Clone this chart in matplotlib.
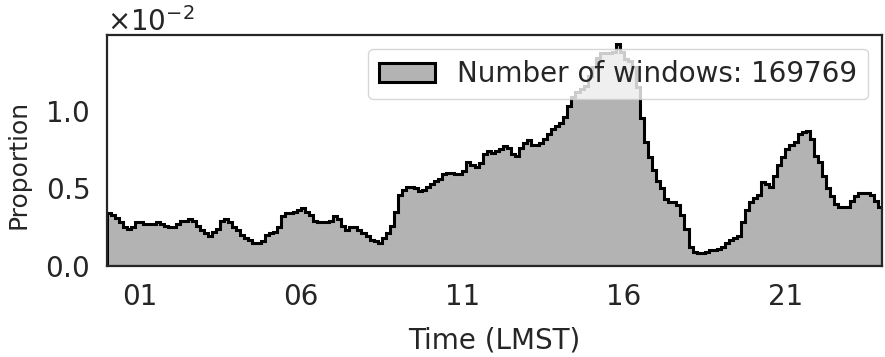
"""Diurnal distribution of analysis windows (proportion per 7.5-min bin)."""
import numpy as np
import matplotlib
matplotlib.use("Agg")
import matplotlib.pyplot as plt
import seaborn as sns
from matplotlib.ticker import ScalarFormatter, FixedLocator, MultipleLocator

sns.set_theme(style="white")

# ---------- data: proportion per bin (x 1e-2), 8 bins per hour ----------
n_windows = 169769
hours_00_05 = [
    0.34, 0.33, 0.31, 0.28, 0.25, 0.24, 0.25, 0.28,
    0.28, 0.27, 0.27, 0.27, 0.28, 0.27, 0.26, 0.25,
    0.25, 0.27, 0.29, 0.29, 0.30, 0.29, 0.26, 0.23,
    0.21, 0.19, 0.22, 0.24, 0.29, 0.30, 0.28, 0.25,
    0.23, 0.20, 0.18, 0.17, 0.15, 0.15, 0.16, 0.20,
    0.21, 0.22, 0.25, 0.32, 0.34, 0.34, 0.35, 0.36,
]
hours_06_11 = [
    0.37, 0.35, 0.33, 0.29, 0.28, 0.28, 0.28, 0.29,
    0.32, 0.30, 0.26, 0.23, 0.25, 0.25, 0.23, 0.21,
    0.19, 0.17, 0.16, 0.15, 0.18, 0.21, 0.26, 0.35,
    0.46, 0.49, 0.51, 0.51, 0.50, 0.48, 0.49, 0.51,
    0.53, 0.55, 0.56, 0.59, 0.60, 0.60, 0.59, 0.59,
    0.61, 0.67, 0.65, 0.64, 0.66, 0.72, 0.74, 0.73,
]
hours_12_17 = [
    0.74, 0.75, 0.77, 0.76, 0.72, 0.71, 0.76, 0.79,
    0.81, 0.78, 0.78, 0.79, 0.82, 0.85, 0.88, 0.90,
    0.92, 0.96, 1.03, 1.09, 1.12, 1.14, 1.16, 1.22,
    1.28, 1.34, 1.37, 1.37, 1.37, 1.38, 1.43, 1.38,
    1.33, 1.32, 1.28, 1.15, 0.95, 0.80, 0.70, 0.62,
    0.55, 0.50, 0.43, 0.41, 0.41, 0.39, 0.33, 0.24,
]
hours_18_23 = [
    0.12, 0.09, 0.085, 0.085, 0.09, 0.10, 0.10, 0.11,
    0.12, 0.15, 0.17, 0.18, 0.19, 0.28, 0.36, 0.41,
    0.44, 0.46, 0.54, 0.53, 0.51, 0.58, 0.65, 0.70,
    0.75, 0.78, 0.80, 0.85, 0.86, 0.87, 0.82, 0.71,
    0.67, 0.58, 0.50, 0.45, 0.40, 0.38, 0.38, 0.38,
    0.42, 0.45, 0.47, 0.47, 0.47, 0.46, 0.42, 0.38,
]
tick_hours = [1, 6, 11, 16, 21]
tick_labels = ["01", "06", "11", "16", "21"]

proportion = np.array(hours_00_05 + hours_06_11 + hours_12_17 + hours_18_23) * 1e-2
edges = np.linspace(0, 24, len(proportion) + 1)
centers = 0.5 * (edges[:-1] + edges[1:])

fs = 20
fig = plt.figure(figsize=(8.85, 3.57), dpi=100)
ax = fig.add_axes([0.121, 0.255, 0.876, 0.647])
ax.hist(centers, bins=edges, weights=proportion, histtype="stepfilled",
        facecolor="#b3b3b3", edgecolor="black", lw=2.2,
        label=f"Number of windows: {n_windows}")

ax.set_xlim(0, 24)
ax.set_ylim(0, proportion.max() * 1.04)
ax.xaxis.set_major_locator(FixedLocator(tick_hours))
ax.set_xticklabels(tick_labels)
ax.yaxis.set_major_locator(MultipleLocator(0.005))
fmt = ScalarFormatter(useMathText=True)
fmt.set_powerlimits((-1, 1))
ax.yaxis.set_major_formatter(fmt)
ax.yaxis.get_offset_text().set_fontsize(fs)
ax.tick_params(labelsize=fs, pad=6.5)
ax.set_xlabel("Time (LMST)", fontsize=fs, labelpad=11)
ax.set_ylabel("Proportion", fontsize=18)
ax.yaxis.set_label_coords(-0.099, 0.44)
for s in ax.spines.values():
    s.set_color("#262626")
    s.set_linewidth(1.6)

ax.legend(loc="upper right", fontsize=fs, framealpha=0.8,
          borderaxespad=0.5, handlelength=2.0)

fig.savefig("out.png", dpi=100)
